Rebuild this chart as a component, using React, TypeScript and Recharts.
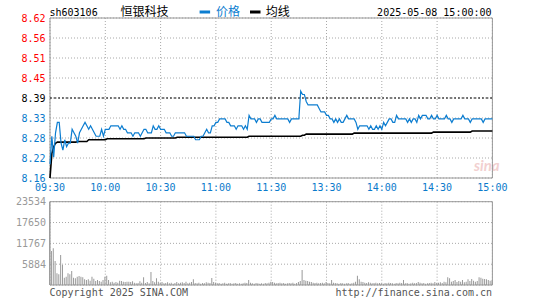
import React from 'react';
import {
  ComposedChart,
  Line,
  Bar,
  XAxis,
  YAxis,
  CartesianGrid,
  ReferenceLine,
  ReferenceArea,
} from 'recharts';

const MONO = '"DejaVu Sans Mono", monospace';
const CJK = '"Noto Sans CJK SC", sans-serif';

const stockCode = 'sh603106';
const stockName = '恒银科技';
const legendPrice = '价格';
const legendAvg = '均线';
const timestamp = '2025-05-08 15:00:00';
const copyright = 'Copyright 2025 SINA.COM';
const siteUrl = 'http://finance.sina.com.cn';

const prevClose = 8.39;
const priceLabels = ['8.16', '8.22', '8.28', '8.33', '8.39', '8.45', '8.51', '8.56', '8.62'];
const pctLabels = ['-2.74%', '-2.06%', '-1.37%', '-0.69%', '0.00%', '+0.69%', '+1.37%', '+2.06%', '+2.74%'];
const timeLabels = ['09:30', '10:00', '10:30', '11:00', '11:30', '13:30', '14:00', '14:30', '15:00'];
const volLabels = ['5884', '11767', '17650', '23534'];
const volMax = 23534;

const price = [
  8.20, 8.28, 8.22, 8.29, 8.32, 8.32, 8.26, 8.24, 8.27, 8.25,
  8.26, 8.26, 8.30, 8.29, 8.28, 8.26, 8.29, 8.30, 8.31, 8.32,
  8.31, 8.30, 8.31, 8.30, 8.29, 8.28, 8.28, 8.28, 8.30, 8.28,
  8.30, 8.30, 8.30, 8.31, 8.31, 8.31, 8.31, 8.31, 8.30, 8.31,
  8.30, 8.30, 8.29, 8.29, 8.29, 8.28, 8.29, 8.29, 8.29, 8.28,
  8.29, 8.30, 8.30, 8.29, 8.29, 8.29, 8.31, 8.30, 8.30, 8.31,
  8.30, 8.30, 8.30, 8.29, 8.29, 8.29, 8.28, 8.28, 8.29, 8.29,
  8.29, 8.29, 8.29, 8.29, 8.28, 8.28, 8.28, 8.28, 8.28, 8.27,
  8.27, 8.27, 8.28, 8.28, 8.29, 8.30, 8.29, 8.29, 8.31, 8.31,
  8.32, 8.32, 8.33, 8.33, 8.33, 8.33, 8.32, 8.32, 8.31, 8.31,
  8.31, 8.30, 8.31, 8.31, 8.31, 8.30, 8.31, 8.30, 8.34, 8.33,
  8.33, 8.33, 8.32, 8.33, 8.33, 8.32, 8.32, 8.32, 8.32, 8.32,
  8.33, 8.33, 8.34, 8.33, 8.33, 8.33, 8.33, 8.33, 8.33, 8.33,
  8.32, 8.33, 8.33, 8.33, 8.33, 8.33, 8.41, 8.40, 8.40, 8.38,
  8.37, 8.37, 8.37, 8.37, 8.37, 8.37, 8.36, 8.35, 8.35, 8.35,
  8.34, 8.34, 8.33, 8.33, 8.32, 8.33, 8.32, 8.33, 8.32, 8.32,
  8.33, 8.34, 8.33, 8.33, 8.33, 8.33, 8.32, 8.30, 8.31, 8.31,
  8.31, 8.31, 8.31, 8.30, 8.31, 8.30, 8.30, 8.31, 8.30, 8.31,
  8.30, 8.32, 8.31, 8.32, 8.33, 8.33, 8.32, 8.32, 8.34, 8.33,
  8.33, 8.33, 8.33, 8.33, 8.32, 8.33, 8.32, 8.33, 8.33, 8.32,
  8.34, 8.33, 8.34, 8.34, 8.34, 8.33, 8.33, 8.34, 8.33, 8.33,
  8.34, 8.33, 8.33, 8.33, 8.33, 8.34, 8.33, 8.33, 8.32, 8.33,
  8.33, 8.33, 8.33, 8.33, 8.34, 8.33, 8.33, 8.33, 8.32, 8.33,
  8.33, 8.33, 8.33, 8.33, 8.33, 8.32, 8.33, 8.33, 8.33, 8.33,
  8.33,
];

const avgPrice = [
  8.160, 8.230, 8.250, 8.260, 8.263, 8.263, 8.263, 8.263, 8.263, 8.263,
  8.263, 8.263, 8.263, 8.263, 8.263, 8.265, 8.265, 8.265, 8.265, 8.265,
  8.265, 8.270, 8.270, 8.270, 8.270, 8.270, 8.270, 8.270, 8.270, 8.270,
  8.270, 8.273, 8.273, 8.273, 8.273, 8.273, 8.273, 8.273, 8.273, 8.273,
  8.273, 8.273, 8.273, 8.273, 8.273, 8.273, 8.273, 8.273, 8.273, 8.273,
  8.273, 8.273, 8.275, 8.275, 8.275, 8.275, 8.275, 8.275, 8.275, 8.275,
  8.275, 8.275, 8.275, 8.275, 8.275, 8.275, 8.275, 8.275, 8.275, 8.277,
  8.277, 8.277, 8.277, 8.277, 8.277, 8.277, 8.277, 8.277, 8.277, 8.277,
  8.277, 8.277, 8.277, 8.277, 8.277, 8.277, 8.277, 8.277, 8.277, 8.277,
  8.277, 8.277, 8.277, 8.277, 8.277, 8.277, 8.277, 8.277, 8.277, 8.277,
  8.277, 8.277, 8.277, 8.277, 8.277, 8.277, 8.277, 8.277, 8.280, 8.280,
  8.280, 8.280, 8.280, 8.280, 8.280, 8.280, 8.280, 8.280, 8.280, 8.280,
  8.280, 8.280, 8.280, 8.280, 8.280, 8.280, 8.280, 8.280, 8.280, 8.280,
  8.280, 8.280, 8.280, 8.280, 8.280, 8.280, 8.280, 8.283, 8.283, 8.286,
  8.286, 8.286, 8.286, 8.286, 8.286, 8.286, 8.286, 8.286, 8.286, 8.286,
  8.286, 8.286, 8.286, 8.286, 8.286, 8.286, 8.286, 8.286, 8.286, 8.286,
  8.286, 8.286, 8.286, 8.286, 8.286, 8.289, 8.289, 8.289, 8.289, 8.289,
  8.289, 8.289, 8.289, 8.289, 8.289, 8.289, 8.289, 8.289, 8.289, 8.289,
  8.289, 8.289, 8.289, 8.289, 8.289, 8.289, 8.289, 8.289, 8.289, 8.289,
  8.289, 8.289, 8.289, 8.289, 8.289, 8.289, 8.289, 8.289, 8.289, 8.289,
  8.289, 8.289, 8.289, 8.289, 8.289, 8.289, 8.289, 8.289, 8.292, 8.292,
  8.292, 8.292, 8.292, 8.292, 8.292, 8.292, 8.292, 8.292, 8.292, 8.292,
  8.292, 8.292, 8.292, 8.292, 8.292, 8.292, 8.292, 8.292, 8.292, 8.295,
  8.295, 8.295, 8.295, 8.295, 8.295, 8.295, 8.295, 8.295, 8.295, 8.295,
  8.295,
];

const volume = [
  23534, 9600, 10360, 6780, 3300, 3010, 8480, 5650, 2070, 2350,
  3300, 3010, 3960, 2070, 1880, 2350, 2540, 2350, 2170, 1600,
  1410, 1600, 1230, 2350, 1790, 1130, 1410, 1130, 940, 1410,
  2350, 2640, 1410, 750, 940, 660, 850, 660, 1230, 1130,
  940, 850, 940, 940, 850, 1040, 660, 470, 570, 1040,
  660, 2170, 570, 850, 470, 3670, 1130, 750, 1880, 940,
  660, 850, 470, 570, 750, 470, 660, 380, 570, 850,
  470, 660, 750, 570, 940, 470, 660, 850, 1600, 570,
  470, 660, 380, 570, 470, 750, 660, 570, 1980, 850,
  660, 470, 570, 380, 470, 660, 380, 470, 570, 380,
  470, 570, 380, 470, 380, 470, 660, 570, 1410, 660,
  470, 380, 570, 470, 380, 470, 380, 570, 470, 660,
  940, 850, 660, 470, 570, 660, 470, 570, 380, 470,
  570, 470, 660, 380, 570, 850, 1130, 4240, 1410, 1230,
  1130, 940, 850, 660, 570, 660, 470, 570, 660, 470,
  850, 570, 470, 1410, 660, 570, 470, 380, 570, 470,
  380, 470, 570, 380, 470, 660, 940, 2640, 1600, 940,
  850, 660, 570, 750, 660, 470, 570, 660, 470, 570,
  470, 380, 570, 470, 660, 570, 470, 380, 570, 470,
  660, 570, 1410, 470, 570, 380, 470, 660, 470, 570,
  850, 660, 470, 570, 380, 470, 570, 660, 470, 850,
  570, 660, 750, 570, 940, 750, 2170, 1880, 940, 1130,
  1410, 850, 1130, 940, 1410, 750, 940, 1600, 1130, 1700,
  1230, 940, 1130, 2170, 2070, 1790, 1700, 1600, 1410, 1230,
  1320,
];

const rows = price.map((p, i) => ({ i, price: p, avg: avgPrice[i], vol: volume[i] }));

const RED = '#ff0000';
const BLUE = '#0a7acb';
const LINE_BLUE = '#0c7dd0';
const GRID = '#a8a8a8';
const BORDER = '#999999';

const pMin = parseFloat(priceLabels[0]);
const pMax = parseFloat(priceLabels[priceLabels.length - 1]);
const pStep = (pMax - pMin) / (priceLabels.length - 1);
const priceTicks = priceLabels.map((_, k) => pMin + k * pStep);
const timeTicks = timeLabels.map((_, k) => k * 30);
const volTicks = volLabels.map((s) => parseFloat(s));

const levelIndex = (v: number) => Math.round((v - pMin) / pStep);
const levelColor = (k: number) => (k > 4 ? RED : k === 4 ? '#000000' : BLUE);

const LeftTick = (props: any) => {
  const { x, y, payload } = props;
  const k = levelIndex(payload.value);
  return (
    <text x={x + 0.5} y={y} dy={3.6} textAnchor="end" fill={levelColor(k)} fontSize={10} fontFamily={MONO}>
      {priceLabels[k]}
    </text>
  );
};

const RightTick = (props: any) => {
  const { y, payload } = props;
  const k = levelIndex(payload.value);
  return (
    <text x={530.5} y={y} dy={3.6} textAnchor="end" fill={levelColor(k)} fontSize={10} fontFamily={MONO}>
      {pctLabels[k]}
    </text>
  );
};

const TimeTick = (props: any) => {
  const { x, y, payload } = props;
  const k = Math.round(payload.value / 30);
  return (
    <text x={x} y={y} dy={7.1} textAnchor="middle" fill={BLUE} fontSize={10} fontFamily={MONO}>
      {timeLabels[k]}
    </text>
  );
};

const VolTick = (props: any) => {
  const { x, y, payload } = props;
  const k = volTicks.indexOf(payload.value);
  return (
    <text x={x} y={y} dy={3.6} textAnchor="end" fill="#999999" fontSize={10} fontFamily={MONO}>
      {k >= 0 ? volLabels[k] : ''}
    </text>
  );
};

export default function App() {
  return (
    <div style={{ position: 'absolute', left: 0, top: 0, width: 545, height: 300, background: '#ffffff', overflow: 'hidden' }}>
      <div style={{ position: 'absolute', left: 0, top: 0 }}>
        <ComposedChart width={545} height={196} data={rows} margin={{ top: 18, right: 0, bottom: 3, left: 0 }}>
          <CartesianGrid yAxisId="left" stroke={GRID} strokeDasharray="1 2" />
          <XAxis
            dataKey="i"
            type="number"
            domain={[0, 240]}
            ticks={timeTicks}
            interval={0}
            axisLine={false}
            tickLine={false}
            tickSize={4}
            height={15}
            tick={<TimeTick />}
          />
          <YAxis
            yAxisId="left"
            width={50}
            domain={[pMin, pMax]}
            ticks={priceTicks}
            interval={0}
            axisLine={false}
            tickLine={false}
            tickSize={3}
            tick={<LeftTick />}
          />
          <YAxis
            yAxisId="right"
            orientation="right"
            width={52.6}
            domain={[pMin, pMax]}
            ticks={priceTicks}
            interval={0}
            axisLine={false}
            tickLine={false}
            tick={<RightTick />}
          />
          <ReferenceLine yAxisId="left" y={prevClose} stroke="#000000" strokeDasharray="2 2" />
          <text x={474} y={171} fontSize={15} fontStyle="italic" fontWeight="bold" fontFamily="Lato, sans-serif" fill="#f2d0d0">
            sina
          </text>
          <Line
            yAxisId="left"
            dataKey="avg"
            type="linear"
            stroke="#000000"
            strokeWidth={1.6}
            dot={false}
            isAnimationActive={false}
          />
          <Line
            yAxisId="left"
            dataKey="price"
            type="linear"
            stroke={LINE_BLUE}
            strokeWidth={1.2}
            dot={false}
            isAnimationActive={false}
          />
          <ReferenceArea yAxisId="left" x1={0} x2={240} y1={pMin} y2={pMax} fill="none" stroke={BORDER} strokeWidth={1} />
        </ComposedChart>
      </div>
      <div style={{ position: 'absolute', left: 0, top: 190 }}>
        <ComposedChart width={545} height={110} data={rows} margin={{ top: 11.7, right: 52.6, bottom: 15, left: 0 }}>
          <CartesianGrid stroke={GRID} strokeDasharray="1 2" />
          <XAxis dataKey="i" type="number" domain={[0, 240]} ticks={timeTicks} interval={0} hide />
          <YAxis
            width={50}
            domain={[0, volMax]}
            ticks={volTicks}
            interval={0}
            axisLine={false}
            tickLine={false}
            tickSize={2}
            tick={<VolTick />}
          />
          <Bar dataKey="vol" fill="#999999" barSize={1} isAnimationActive={false} />
          <ReferenceArea x1={0} x2={240} y1={0} y2={volMax} fill="none" stroke={BORDER} strokeWidth={1} />
        </ComposedChart>
      </div>
      <svg width={545} height={300} style={{ position: 'absolute', left: 0, top: 0, pointerEvents: 'none' }}>
        <text x={49.5} y={15.6} fontSize={10} fontFamily={MONO} fill="#000000">{stockCode}</text>
        <text x={120.5} y={16.4} fontSize={12} fontFamily={CJK} fill="#000000">{stockName}</text>
        <rect x={199.6} y={10.5} width={10.5} height={3} fill={LINE_BLUE} />
        <text x={216} y={16.4} fontSize={12} fontFamily={CJK} fill={LINE_BLUE}>{legendPrice}</text>
        <rect x={250} y={10.5} width={10.5} height={3} fill="#000000" />
        <text x={265.8} y={16.4} fontSize={12} fontFamily={CJK} fill="#000000">{legendAvg}</text>
        <text x={491.5} y={15.6} fontSize={10} fontFamily={MONO} fill="#000000" textAnchor="end">{timestamp}</text>
        <text x={49.5} y={296.3} fontSize={10} fontFamily={MONO} fill="#555555">{copyright}</text>
        <text x={492} y={296.3} fontSize={10} fontFamily={MONO} fill="#555555" textAnchor="end">{siteUrl}</text>
      </svg>
    </div>
  );
}
